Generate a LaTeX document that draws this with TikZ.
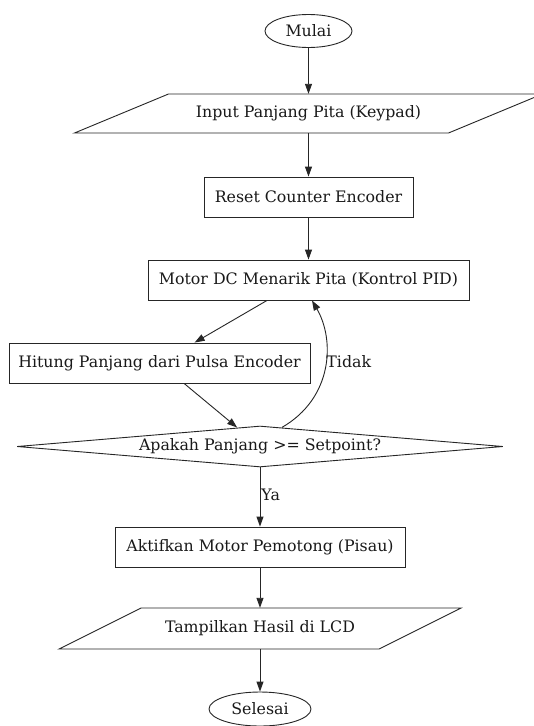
\documentclass[tikz,border=0pt]{standalone}
\usepackage{fontspec}
\setmainfont{DejaVu Serif}
\usetikzlibrary{shapes.geometric,arrows.meta,calc}
\begin{document}
\begin{tikzpicture}[x=1pt,y=-1pt,
  every node/.style={font=\fontsize{15.8}{18}\selectfont, text=black!90},
  line/.style={draw=black!85, line width=0.9pt},
  arr/.style={line, -{Triangle[length=10pt,width=7pt]}},
  boxnode/.style={line, rectangle, inner sep=0pt, minimum height=40pt},
  ellnode/.style={line, ellipse, inner sep=0pt},
  ionode/.style={rectangle, inner sep=0pt, minimum height=39pt},
  decnode/.style={line, diamond, aspect=12, inner sep=0pt, minimum width=486pt, minimum height=41pt},
  lbl/.style={anchor=west, inner sep=1pt}
]
\useasboundingbox (0,0) rectangle (534,726);
\fill[white] (0,0) rectangle (534,726);

\node[ellnode, minimum width=87pt, minimum height=33pt] (start) at (308.5,31) {Mulai};
\node[ionode, minimum width=468pt] (inp) at (308.5,113.5) {Input Panjang Pita (Keypad)};
\draw[line] ($(inp.center)+(-140,-19.5)$) -- ($(inp.center)+(234,-19.5)$) -- ($(inp.center)+(140,19.5)$) -- ($(inp.center)+(-234,19.5)$) -- cycle;
\node[boxnode, minimum width=209pt] (rst) at (308.5,197) {Reset Counter Encoder};
\node[boxnode, minimum width=321pt] (mot) at (308.5,280) {Motor DC Menarik Pita (Kontrol PID)};
\node[boxnode, minimum width=301pt] (hit) at (159.5,363) {Hitung Panjang dari Pulsa Encoder};
\node[decnode] (dia) at (260,446.5) {Apakah Panjang >= Setpoint?};
\node[boxnode, minimum width=290pt] (akt) at (260,547) {Aktifkan Motor Pemotong (Pisau)};
\node[ionode, minimum width=402pt, minimum height=41pt] (tam) at (260,628.5) {Tampilkan Hasil di LCD};
\draw[line] ($(tam.center)+(-119,-20.5)$) -- ($(tam.center)+(201,-20.5)$) -- ($(tam.center)+(119,20.5)$) -- ($(tam.center)+(-201,20.5)$) -- cycle;
\node[ellnode, minimum width=102pt, minimum height=34pt] (end) at (260,709) {Selesai};

\draw[arr] (start) -- (inp);
\draw[arr] (inp) -- (rst);
\draw[arr] (rst) -- (mot);
\draw[arr] ([xshift=-41.5pt]mot.south) -- (hit);
\draw[arr] (hit) -- (dia);
\draw[arr] ($(dia.north)!0.09!(dia.east)$) .. controls (333,398) and (335,340) .. ([xshift=3.5pt]mot.south)
  node[lbl] at (325,362) {Tidak};
\draw[arr] (dia) -- (akt) node[lbl] at (260,495) {Ya};
\draw[arr] (akt) -- (tam);
\draw[arr] (tam) -- (end);
\end{tikzpicture}
\end{document}
